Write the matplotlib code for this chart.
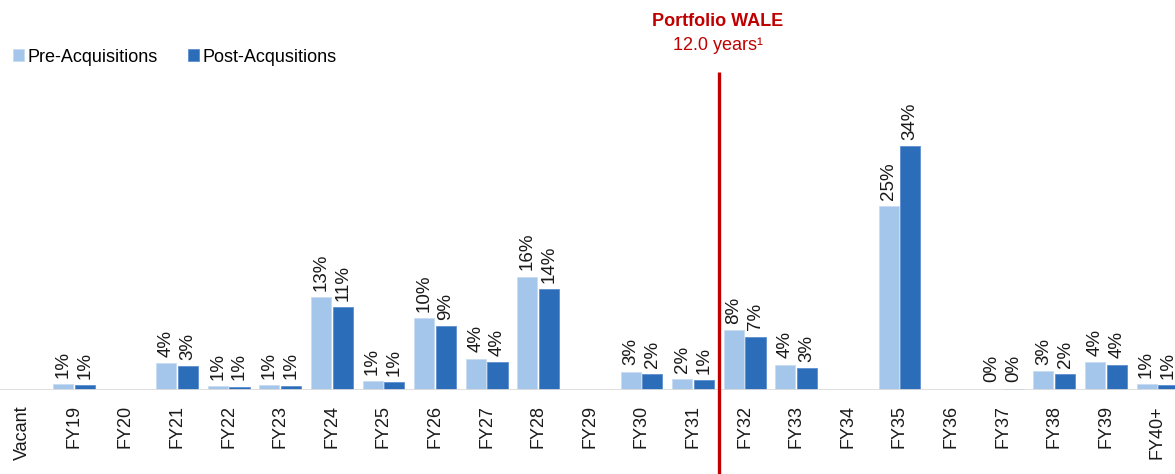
import numpy as np
import matplotlib.pyplot as plt

plt.rcParams['font.family'] = ['Liberation Sans', 'DejaVu Sans']

# lease expiry profile, % of income
categories = ["Vacant", "FY19", "FY20", "FY21", "FY22", "FY23", "FY24", "FY25",
              "FY26", "FY27", "FY28", "FY29", "FY30", "FY31", "FY32", "FY33",
              "FY34", "FY35", "FY36", "FY37", "FY38", "FY39", "FY40+"]
pre_acq = [0, 0.8, 0, 3.75, 0.55, 0.7, 12.9, 1.25, 10.0, 4.35, 15.8, 0, 2.55, 1.5,
           8.3, 3.5, 0, 25.6, 0, 0.2, 2.6, 3.9, 0.8]
post_acq = [0, 0.7, 0, 3.3, 0.45, 0.6, 11.5, 1.07, 8.9, 3.86, 14.05, 0, 2.2, 1.35,
            7.4, 3.06, 0, 34.0, 0, 0.2, 2.2, 3.5, 0.7]
pre_labels = ["", "1%", "", "4%", "1%", "1%", "13%", "1%", "10%", "4%", "16%", "", "3%", "2%",
              "8%", "4%", "", "25%", "", "0%", "3%", "4%", "1%"]
post_labels = ["", "1%", "", "3%", "1%", "1%", "11%", "1%", "9%", "4%", "14%", "", "2%", "1%",
               "7%", "3%", "", "34%", "", "0%", "2%", "4%", "1%"]
wale_pos = 13.5

c_pre = "#A4C6EA"
c_post = "#2C6DBA"
red = "#C00000"
fs = 13

fig = plt.figure(figsize=(11.75, 4.74), dpi=100)
ax = fig.add_axes([0, 84 / 474, 1, 287 / 474])

x = np.arange(len(categories))
w = 0.39
b1 = ax.bar(x - 0.21, pre_acq, w, color=c_pre, edgecolor="#C9DCF2", linewidth=0.6,
            label="Pre-Acquisitions", zorder=2)
b2 = ax.bar(x + 0.21, post_acq, w, color=c_post, edgecolor="#5D8FCF", linewidth=0.6,
            label="Post-Acqusitions", zorder=2)

for xi, v, t in zip(x - 0.21, pre_acq, pre_labels):
    if t:
        ax.text(xi, v + 0.9, t, rotation=90, ha="center", va="bottom", fontsize=13.5, color="#1a1a1a")
for xi, v, t in zip(x + 0.21, post_acq, post_labels):
    if t:
        ax.text(xi, v + 0.9, t, rotation=90, ha="center", va="bottom", fontsize=13.5, color="#1a1a1a")

ax.set_xlim(-0.43, 22.34)
ax.set_ylim(0, 40)
ax.axhline(0, color="#DDDDDD", lw=2, zorder=3)
ax.set_xticks(x)
ax.set_xticklabels(categories, rotation=90, fontsize=fs, color="#1a1a1a")
ax.tick_params(axis="x", length=0, pad=11)
ax.set_yticks([])
for s in ax.spines.values():
    s.set_visible(False)

# WALE marker
ax.vlines(wale_pos, -11.7, 44.3, color=red, lw=2.4, clip_on=False, zorder=4)
fig.text(718 / 1175, 1 - 22 / 474, "Portfolio WALE", color=red, fontsize=fs,
         fontweight="bold", ha="center", va="center")
fig.text(718 / 1175, 1 - 45 / 474, "12.0 years\u00b9", color=red, fontsize=fs,
         ha="center", va="center")

fig.legend(handles=[b1, b2], loc="center left", bbox_to_anchor=(0.005, 1 - 57 / 474),
           ncol=2, frameon=False, fontsize=fs, handlelength=0.6, handleheight=0.6,
           handletextpad=0.2, columnspacing=1.7, borderaxespad=0)

fig.savefig("out.png", dpi=100)
